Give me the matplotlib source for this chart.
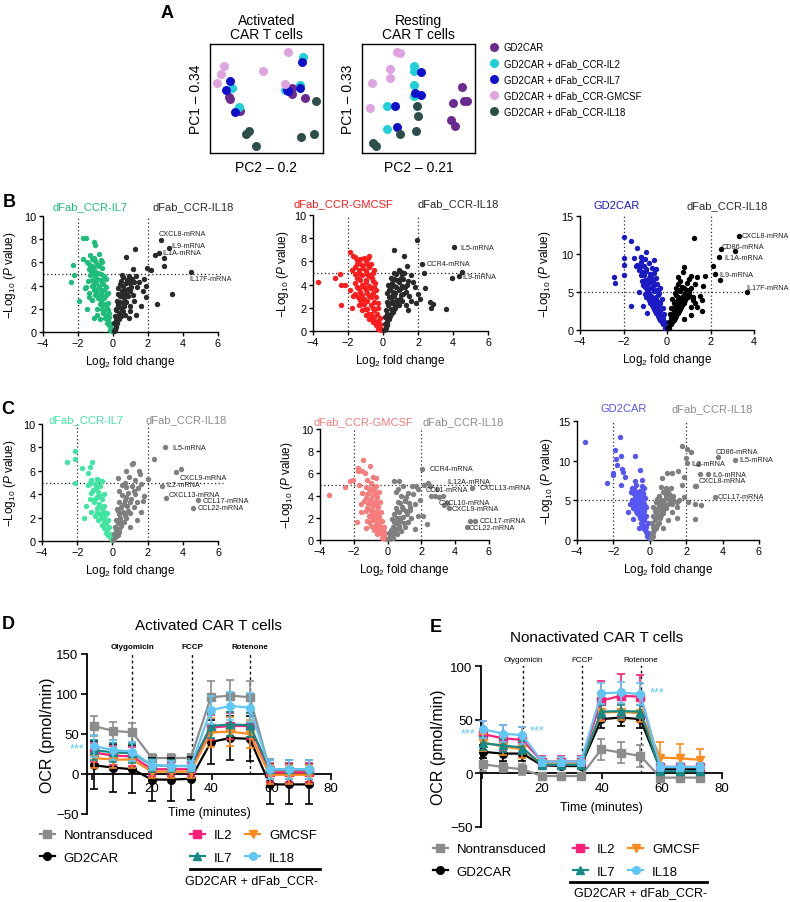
import numpy as np
import matplotlib
matplotlib.use('Agg')
import matplotlib.pyplot as plt
from matplotlib.lines import Line2D

plt.rcParams['font.family'] = ['Liberation Sans', 'DejaVu Sans']
plt.rcParams['mathtext.fontset'] = 'custom'
plt.rcParams['mathtext.rm'] = 'Liberation Sans'
plt.rcParams['mathtext.it'] = 'Liberation Sans:italic'
plt.rcParams['axes.linewidth'] = 1.0

# ---------------- panel A : PCA -----------------
pca_labels = ['GD2CAR', 'GD2CAR + dFab_CCR-IL2', 'GD2CAR + dFab_CCR-IL7',
              'GD2CAR + dFab_CCR-GMCSF', 'GD2CAR + dFab_CCR-IL18']
pca_colors = ['#6b2a90', '#1fd0d6', '#1010cc', '#dea3e0', '#2d4f4c']

act_gd2car = np.array([(0.147, 0.511), (0.162, 0.495), (0.25, 0.382), (0.741, 0.602), (0.741, 0.544), (0.862, 0.505)])
act_il2 = np.array([(0.176, 0.602), (0.241, 0.419), (0.676, 0.581), (0.838, 0.908), (0.812, 0.633)])
act_il7 = np.array([(0.156, 0.67), (0.124, 0.581), (0.2, 0.367), (0.691, 0.587), (0.829, 0.856), (0.818, 0.602), (0.706, 0.572)])
act_gmcsf = np.array([(0.097, 0.817), (0.074, 0.734), (0.038, 0.648), (0.471, 0.765), (0.706, 0.948), (0.671, 0.642)])
act_il18 = np.array([(0.309, 0.159), (0.338, 0.183), (0.397, 0.037), (0.824, 0.122), (0.95, 0.153), (0.965, 0.471)])

rest_gd2car = np.array([(0.912, 0.609), (0.824, 0.459), (0.926, 0.471), (0.956, 0.471), (0.803, 0.29), (0.838, 0.235)])
rest_il2 = np.array([(0.456, 0.817), (0.456, 0.765), (0.456, 0.633), (0.456, 0.526), (0.206, 0.428), (0.206, 0.205)])
rest_il7 = np.array([(0.52, 0.755), (0.465, 0.557), (0.52, 0.535), (0.279, 0.428), (0.294, 0.22)])
rest_gmcsf = np.array([(0.294, 0.954), (0.324, 0.939), (0.229, 0.786), (0.229, 0.7), (0.068, 0.654), (0.044, 0.404)])
rest_il18 = np.array([(0.485, 0.428), (0.491, 0.327), (0.479, 0.18), (0.329, 0.159), (0.074, 0.067), (0.103, 0.037)])

# ---------------- panels B / C : volcano plots (log2FC, -log10 p) -----------------
b1_il7 = np.array([(-0.05, 0.1), (-0.1, 0.3), (-0.15, 0.5), (-0.2, 0.8), (-0.1, 0.7), (-0.3, 1.0), (-0.25, 1.3), (-0.4, 1.5),
                   (-0.2, 1.6), (-0.5, 1.9), (-0.35, 2.1), (-0.6, 2.3), (-0.3, 2.5), (-0.7, 2.7), (-0.5, 2.9), (-0.8, 3.1),
                   (-0.4, 3.2), (-0.9, 3.4), (-0.6, 3.6), (-1.0, 3.7), (-0.4, 3.9), (-0.8, 4.0), (-1.1, 4.1), (-0.6, 4.3),
                   (-1.2, 4.5), (-0.9, 4.6), (-0.5, 4.8), (-1.3, 4.9), (-0.7, 5.0), (-1.0, 5.2), (-1.4, 5.4), (-0.6, 5.5),
                   (-1.2, 5.7), (-0.9, 5.9), (-1.5, 6.0), (-0.7, 6.2), (-1.1, 6.4), (-1.3, 6.6), (-0.8, 6.7), (-1.4, 3.0),
                   (-1.6, 3.8), (-1.5, 2.0), (-1.1, 1.2), (-0.9, 2.0), (-1.2, 2.8), (-1.73, 8.1), (-1.54, 8.1), (-1.09, 7.8),
                   (-1.03, 7.5), (-1.73, 6.3), (-2.3, 5.8), (-2.23, 4.9), (-2.42, 4.3), (-1.93, 2.7), (-1.54, 3.85),
                   (-0.15, 0.2), (-0.25, 0.6), (-0.35, 0.8), (-0.45, 1.2), (-0.55, 1.6), (-0.65, 2.0), (-0.45, 2.4),
                   (-0.75, 2.4), (-0.85, 2.9), (-0.6, 3.0), (-1.0, 3.2), (-0.7, 3.4), (-1.1, 3.6), (-0.8, 3.8), (-0.5, 3.6),
                   (-1.2, 4.0), (-0.95, 4.3), (-0.7, 4.5), (-1.05, 4.8), (-0.85, 5.1), (-1.25, 5.2), (-1.1, 5.5),
                   (-0.8, 5.7), (-1.35, 5.9), (-1.0, 6.1), (-1.2, 6.3), (-0.6, 6.0), (-1.45, 4.4), (-1.35, 3.4),
                   (-0.3, 3.4), (-0.55, 4.1), (-0.4, 4.6), (-0.9, 1.5), (-0.75, 1.1), (-0.3, 1.9)])
b1_il18 = np.array([(0.05, 0.1), (0.1, 0.3), (0.15, 0.6), (0.05, 0.8), (0.2, 1.0), (0.3, 1.2), (0.1, 1.4), (0.35, 1.6),
                    (0.2, 1.9), (0.45, 2.1), (0.3, 2.3), (0.55, 2.5), (0.25, 2.7), (0.65, 2.9), (0.4, 3.1), (0.75, 3.3),
                    (0.5, 3.5), (0.85, 3.7), (0.3, 3.8), (0.6, 4.0), (0.95, 4.2), (0.45, 4.4), (0.8, 4.5), (1.1, 4.6),
                    (0.6, 4.7), (1.3, 4.8), (1.5, 4.3), (1.7, 3.5), (1.9, 3.0), (1.6, 2.2), (1.2, 2.7), (1.0, 1.8),
                    (0.7, 1.5), (1.8, 4.6), (1.4, 3.9), (1.26, 7.16), (0.74, 6.5), (1.16, 5.4), (1.93, 5.5), (2.2, 5.34),
                    (2.5, 2.41), (3.35, 3.27), (2.93, 5.66), (2.93, 6.4), (2.4, 6.65), (2.63, 6.8), (2.74, 7.9),
                    (3.2, 7.2), (4.44, 5.14), (1.9, 4.0),
                    (0.1, 0.2), (0.2, 0.4), (0.25, 0.8), (0.35, 1.1), (0.45, 1.4), (0.55, 1.8), (0.65, 2.2), (0.4, 2.6),
                    (0.75, 2.6), (0.85, 3.1), (0.55, 3.2), (0.95, 3.5), (0.65, 3.6), (1.05, 3.9), (0.4, 4.1), (0.75, 4.2),
                    (1.2, 4.3), (0.5, 4.9), (0.9, 4.8), (1.0, 2.2), (1.15, 3.2), (0.3, 3.3), (0.15, 2.0), (0.9, 1.2),
                    (1.3, 1.5)])
b1_genes = [('CXCL8-mRNA', 2.6, 8.45), ('IL9-mRNA', 3.35, 7.45), ('IL1A-mRNA', 2.85, 6.85), ('IL17F-mRNA', 4.36, 4.65)]

b2_gmcsf = np.array([(-0.1, 0.1), (-0.2, 0.3), (-0.3, 0.2), (-0.15, 0.6), (-0.4, 0.5), (-0.3, 0.9), (-0.6, 0.8), (-0.2, 1.1),
                     (-0.5, 1.2), (-0.8, 1.0), (-0.35, 1.5), (-0.7, 1.5), (-1.0, 1.4), (-0.5, 1.8), (-0.9, 1.9), (-1.2, 1.8),
                     (-0.3, 2.0), (-0.7, 2.2), (-1.1, 2.3), (-1.4, 2.2), (-0.5, 2.5), (-0.9, 2.6), (-1.3, 2.7), (-0.4, 2.9),
                     (-0.8, 3.0), (-1.2, 3.1), (-1.6, 3.2), (-0.6, 3.3), (-1.0, 3.5), (-1.4, 3.6), (-0.5, 3.8), (-0.8, 3.9),
                     (-1.2, 4.0), (-1.6, 4.1), (-0.6, 4.3), (-1.0, 4.4), (-1.4, 4.5), (-0.8, 4.7), (-1.2, 4.8), (-1.6, 4.9),
                     (-0.6, 5.0), (-1.0, 5.2), (-1.4, 5.3), (-0.8, 5.5), (-1.2, 5.7), (-1.5, 5.8), (-1.0, 6.0), (-1.3, 6.2),
                     (-0.7, 5.8), (-1.7, 3.0), (-1.8, 2.0), (-3.7, 4.25), (-2.74, 4.6), (-2.46, 4.9), (-2.42, 3.97),
                     (-2.2, 4.0), (-2.42, 2.27), (-1.89, 6.8), (-1.74, 6.5), (-1.79, 5.3), (-1.89, 3.5), (-0.8, 6.5),
                     (-0.83, 6.3), (-1.5, 6.1),
                     (-0.25, 0.4), (-0.45, 0.8), (-0.65, 1.1), (-0.85, 1.5), (-1.05, 1.9), (-1.25, 2.3), (-0.6, 2.0),
                     (-0.3, 2.4), (-1.1, 2.8), (-0.7, 2.9), (-1.45, 2.9), (-1.3, 3.4), (-0.9, 3.3), (-0.4, 3.5),
                     (-0.7, 3.7), (-1.1, 3.8), (-1.5, 3.8), (-0.45, 4.1), (-1.0, 4.2), (-1.3, 4.4), (-0.65, 4.6),
                     (-1.5, 4.6), (-0.9, 4.9), (-1.35, 5.0), (-0.5, 5.3), (-1.15, 5.4), (-1.6, 5.5), (-0.9, 5.8),
                     (-1.4, 6.0), (-1.1, 6.3), (-1.6, 6.4)])
b2_il18 = np.array([(0.05, 0.1), (0.15, 0.3), (0.1, 0.6), (0.25, 0.5), (0.2, 0.9), (0.35, 1.0), (0.1, 1.2), (0.4, 1.3),
                    (0.25, 1.5), (0.55, 1.6), (0.15, 1.8), (0.45, 1.9), (0.7, 2.0), (0.3, 2.2), (0.6, 2.3), (0.9, 2.2),
                    (0.2, 2.5), (0.5, 2.6), (0.8, 2.7), (1.1, 2.6), (0.35, 2.9), (0.65, 3.0), (1.0, 3.1), (0.25, 3.3),
                    (0.55, 3.4), (0.9, 3.5), (1.3, 3.4), (0.4, 3.7), (0.75, 3.8), (1.1, 3.9), (0.5, 4.1), (0.9, 4.2),
                    (1.4, 4.3), (0.6, 4.5), (1.0, 4.6), (0.75, 4.9), (1.2, 5.0), (0.9, 5.3), (1.6, 4.8), (1.8, 3.8),
                    (1.6, 2.6), (1.4, 1.8), (0.63, 7.0), (1.2, 6.5), (1.93, 7.85), (2.25, 5.8), (2.34, 5.0), (1.98, 3.2),
                    (2.1, 2.8), (2.4, 3.7), (2.69, 2.47), (2.85, 2.3), (2.75, 2.0), (3.58, 1.9), (1.9, 2.4), (4.07, 7.27),
                    (4.53, 5.1), (4.34, 4.77), (3.96, 4.54), (1.35, 5.6), (1.07, 4.9), (1.35, 4.0),
                    (0.1, 0.2), (0.2, 0.7), (0.3, 1.1), (0.45, 1.5), (0.6, 1.9), (0.8, 2.4), (0.4, 2.4), (0.95, 2.8),
                    (0.5, 3.0), (1.15, 3.2), (0.7, 3.3), (0.35, 3.5), (1.0, 3.7), (0.6, 3.9), (1.25, 3.8), (0.8, 4.4),
                    (0.45, 4.6), (1.15, 4.5), (1.0, 5.1), (0.6, 5.0), (1.5, 3.0), (1.3, 2.2), (1.7, 4.2), (0.3, 4.0)])
b2_genes = [('IL5-mRNA', 4.4, 7.2), ('CCR4-mRNA', 2.5, 5.78), ('IL9-mRNA', 4.55, 4.7)]

b3_gd2car = np.array([(-0.05, 0.2), (-0.1, 0.5), (-0.2, 0.8), (-0.1, 1.1), (-0.3, 1.3), (-0.2, 1.6), (-0.4, 1.9), (-0.15, 2.1),
                      (-0.5, 2.2), (-0.3, 2.5), (-0.6, 2.7), (-0.2, 2.9), (-0.45, 3.1), (-0.7, 3.3), (-0.3, 3.5), (-0.55, 3.7),
                      (-0.85, 3.9), (-0.25, 4.1), (-0.5, 4.3), (-0.75, 4.5), (-1.0, 4.7), (-0.35, 4.9), (-0.6, 5.1), (-0.9, 5.3),
                      (-0.3, 5.5), (-0.7, 5.7), (-1.1, 5.9), (-0.45, 6.1), (-0.8, 6.3), (-1.0, 6.6), (-0.5, 6.8), (-0.75, 7.0),
                      (-1.2, 7.2), (-0.6, 7.5), (-0.95, 7.7), (-1.3, 7.9), (-0.7, 8.2), (-1.05, 8.4), (-0.85, 8.8), (-1.2, 9.0),
                      (-0.6, 9.2), (-1.4, 8.6), (-1.1, 3.2), (-1.3, 5.0), (-0.9, 2.3), (-1.98, 12.2), (-1.67, 11.75),
                      (-2.44, 6.93), (-2.39, 6.14), (-1.98, 9.47), (-1.98, 8.5), (-1.98, 7.27), (-1.37, 10.75), (-1.67, 3.2),
                      (-1.44, 8.4), (-1.2, 9.6), (-0.97, 10.2), (-1.53, 9.5),
                      (-0.1, 0.3), (-0.25, 1.0), (-0.35, 1.6), (-0.3, 2.0), (-0.55, 2.5), (-0.4, 2.8), (-0.65, 3.0),
                      (-0.35, 3.3), (-0.8, 3.6), (-0.45, 3.8), (-0.65, 4.1), (-0.95, 4.3), (-0.4, 4.6), (-0.85, 4.9),
                      (-0.5, 5.3), (-0.8, 5.5), (-1.0, 5.7), (-0.6, 5.9), (-0.9, 6.0), (-0.65, 6.5), (-1.15, 6.5),
                      (-0.85, 6.8), (-1.05, 7.2), (-0.8, 7.4), (-1.15, 7.6), (-0.95, 8.0), (-1.25, 8.3), (-0.5, 8.0),
                      (-1.0, 9.3), (-1.2, 9.6)])
b3_il18 = np.array([(0.05, 0.2), (0.1, 0.5), (0.2, 0.8), (0.1, 1.1), (0.3, 1.3), (0.2, 1.6), (0.4, 1.9), (0.15, 2.1),
                    (0.5, 2.2), (0.3, 2.5), (0.6, 2.7), (0.2, 2.9), (0.45, 3.1), (0.7, 3.3), (0.3, 3.5), (0.55, 3.7),
                    (0.85, 3.9), (0.25, 4.1), (0.5, 4.3), (0.75, 4.5), (1.0, 4.7), (0.35, 4.9), (0.6, 5.1), (0.9, 5.3),
                    (0.4, 5.5), (0.7, 5.7), (1.1, 5.5), (0.5, 6.0), (0.9, 6.2), (1.2, 4.0), (1.4, 3.0), (1.1, 2.0),
                    (0.8, 1.5), (1.5, 4.5), (1.6, 2.5), (1.24, 12.1), (0.78, 8.25), (1.09, 7.07), (1.4, 6.93), (1.67, 5.83),
                    (1.75, 7.07), (2.13, 8.38), (2.2, 7.37), (2.44, 6.62), (2.4, 9.65), (2.48, 10.66), (3.13, 10.35),
                    (3.31, 12.4), (3.66, 4.96), (0.52, 6.93), (0.75, 7.6),
                    (0.1, 0.3), (0.25, 1.0), (0.35, 1.6), (0.3, 2.0), (0.55, 2.5), (0.4, 2.8), (0.65, 3.0), (0.35, 3.3),
                    (0.8, 3.6), (0.45, 3.8), (0.65, 4.1), (0.95, 4.3), (0.4, 4.6), (0.85, 4.9), (0.5, 5.3), (0.8, 5.5),
                    (1.0, 5.0), (0.6, 6.5), (1.3, 6.0), (1.0, 6.7), (1.2, 4.4), (1.3, 3.5), (1.6, 4.0), (1.1, 3.0)])
b3_genes = [('CXCL8-mRNA', 3.43, 12.4), ('CD86-mRNA', 2.51, 11.0), ('IL1A-mRNA', 2.62, 9.6),
            ('IL9-mRNA', 2.4, 7.33), ('IL17F-mRNA', 3.63, 5.6)]

c1_il7 = np.array([(-0.05, 0.1), (-0.15, 0.3), (-0.1, 0.6), (-0.25, 0.5), (-0.3, 0.9), (-0.2, 1.2), (-0.45, 1.1), (-0.35, 1.5),
                   (-0.6, 1.4), (-0.25, 1.8), (-0.5, 1.9), (-0.8, 1.8), (-0.4, 2.2), (-0.7, 2.3), (-1.0, 2.1), (-0.55, 2.6),
                   (-0.85, 2.8), (-1.2, 2.5), (-0.45, 3.0), (-0.75, 3.2), (-1.05, 3.3), (-0.6, 3.6), (-0.9, 3.8), (-1.3, 3.6),
                   (-0.5, 4.0), (-0.8, 4.2), (-1.1, 4.4), (-0.7, 4.7), (-1.0, 4.9), (-1.4, 4.8), (-0.6, 5.1), (-0.9, 5.3),
                   (-1.2, 5.2), (-1.5, 3.0), (-1.6, 2.0), (-2.59, 6.72), (-2.11, 7.0), (-2.11, 7.72), (-2.11, 4.96),
                   (-1.73, 6.2), (-1.4, 5.8), (-1.16, 6.72), (-1.28, 6.3),
                   (-0.2, 0.4), (-0.35, 0.7), (-0.5, 1.5), (-0.65, 2.0), (-0.3, 2.4), (-0.9, 2.5), (-0.7, 2.9),
                   (-1.0, 3.6), (-0.75, 3.9), (-1.2, 4.1), (-0.95, 4.5), (-1.3, 5.0), (-0.8, 5.2)])
c1_il18 = np.array([(0.05, 0.1), (0.15, 0.3), (0.1, 0.6), (0.3, 0.5), (0.2, 0.9), (0.4, 1.0), (0.15, 1.2), (0.5, 1.3),
                    (0.3, 1.5), (0.65, 1.6), (0.2, 1.8), (0.45, 2.0), (0.8, 2.0), (0.35, 2.3), (0.6, 2.5), (1.0, 2.4),
                    (0.25, 2.7), (0.5, 2.9), (0.85, 3.0), (1.2, 2.9), (0.4, 3.3), (0.7, 3.5), (1.05, 3.6), (1.4, 3.3),
                    (0.55, 3.9), (0.9, 4.1), (1.3, 4.0), (0.4, 4.3), (0.75, 4.6), (1.1, 4.7), (1.6, 4.9), (1.8, 3.87),
                    (1.74, 3.4), (0.97, 5.44), (0.69, 5.0), (0.34, 5.38), (1.6, 2.5), (1.4, 1.8), (1.0, 1.2), (0.78, 6.0),
                    (1.16, 6.64), (1.54, 5.73), (2.02, 5.3), (1.11, 6.58), (1.49, 6.0), (2.36, 7.0), (2.97, 8.0),
                    (3.6, 5.87), (3.89, 6.15), (2.83, 4.73), (3.06, 3.67), (4.89, 3.5), (4.6, 2.85),
                    (0.2, 0.4), (0.35, 0.8), (0.5, 1.6), (0.7, 2.2), (0.3, 2.6), (0.9, 2.6), (0.65, 3.2), (1.0, 3.3),
                    (0.8, 3.8), (1.2, 4.3), (1.45, 4.5), (0.55, 4.8), (1.3, 5.2)])
c1_genes = [('IL5-mRNA', 3.4, 8.0), ('CXCL9-mRNA', 3.83, 5.44), ('IL2-mRNA', 3.06, 4.79),
            ('CXCL13-mRNA', 3.2, 4.0), ('CCL17-mRNA', 5.11, 3.5), ('CCL22-mRNA', 4.83, 2.85)]

c2_gmcsf = np.array([(-0.1, 0.1), (-0.2, 0.3), (-0.35, 0.2), (-0.15, 0.6), (-0.4, 0.6), (-0.6, 0.5), (-0.3, 0.9), (-0.55, 1.0),
                     (-0.8, 0.9), (-0.2, 1.2), (-0.45, 1.3), (-0.7, 1.4), (-1.0, 1.3), (-0.35, 1.7), (-0.6, 1.8), (-0.9, 1.8),
                     (-1.2, 1.7), (-0.5, 2.1), (-0.8, 2.2), (-1.1, 2.2), (-0.4, 2.5), (-0.7, 2.6), (-1.0, 2.7), (-1.3, 2.6),
                     (-0.55, 3.0), (-0.85, 3.1), (-1.15, 3.2), (-0.45, 3.4), (-0.75, 3.5), (-1.05, 3.6), (-1.4, 3.5),
                     (-0.6, 3.9), (-0.9, 4.0), (-1.2, 4.1), (-0.5, 4.3), (-0.8, 4.5), (-1.1, 4.6), (-1.5, 4.2), (-0.7, 4.9),
                     (-1.0, 5.1), (-1.6, 2.5), (-1.8, 1.6), (-1.3, 1.1), (-3.44, 4.05), (-2.53, 4.76), (-2.25, 5.36),
                     (-2.05, 5.45), (-1.44, 7.17), (-1.74, 6.5), (-1.74, 6.2), (-1.04, 6.63), (-1.5, 6.2), (-1.7, 5.0),
                     (-0.7, 5.6),
                     (-0.25, 0.4), (-0.5, 0.8), (-0.75, 1.2), (-1.1, 1.6), (-0.55, 1.6), (-0.95, 2.4), (-0.6, 2.4),
                     (-1.2, 2.9), (-0.7, 3.2), (-1.0, 3.3), (-1.3, 3.8), (-0.75, 4.1), (-1.05, 4.4), (-1.3, 4.8),
                     (-0.9, 4.7), (-1.2, 5.4), (-0.85, 5.7), (-1.35, 6.0), (-1.55, 3.2)])
c2_il18 = np.array([(0.05, 0.1), (0.15, 0.3), (0.3, 0.2), (0.1, 0.6), (0.35, 0.6), (0.55, 0.5), (0.2, 0.9), (0.5, 1.0),
                    (0.8, 0.8), (0.3, 1.2), (0.65, 1.3), (1.0, 1.2), (0.4, 1.6), (0.75, 1.7), (1.2, 1.6), (0.25, 1.9),
                    (0.55, 2.0), (0.9, 2.1), (1.4, 2.0), (0.4, 2.3), (0.7, 2.5), (1.1, 2.6), (0.5, 2.9), (0.85, 3.0),
                    (1.3, 3.0), (0.6, 3.4), (1.0, 3.5), (0.79, 3.96), (1.0, 3.6), (0.68, 5.3), (0.92, 4.85), (1.44, 4.85),
                    (1.68, 4.85), (2.17, 5.0), (2.37, 5.1), (0.39, 5.3), (1.82, 4.6), (0.5, 4.3), (1.2, 4.2), (1.6, 3.2),
                    (1.8, 2.2), (2.11, 2.17), (2.32, 1.43), (1.6, 1.0), (2.02, 6.4), (2.53, 4.85), (2.92, 4.55),
                    (2.59, 4.0), (3.07, 3.9), (5.0, 4.7), (3.36, 3.12), (3.66, 2.92), (3.51, 3.36), (5.15, 1.72),
                    (4.9, 1.72), (4.7, 1.13), (2.83, 3.96), (3.26, 3.96),
                    (0.2, 0.4), (0.45, 0.8), (0.7, 1.1), (0.95, 1.5), (0.5, 1.5), (0.75, 2.0), (1.15, 2.3), (0.55, 2.6),
                    (0.9, 2.8), (1.25, 3.3), (0.75, 3.3), (1.1, 3.9), (0.6, 4.6), (1.5, 4.1), (1.9, 3.6), (1.35, 2.7)])
c2_genes = [('CCR4-mRNA', 2.51, 6.4), ('IL12A-mRNA', 3.52, 5.3), ('CCL1-mRNA', 2.27, 4.55),
            ('CXCL13-mRNA', 5.45, 4.7), ('CXCL10-mRNA', 3.0, 3.42), ('CXCL9-mRNA', 3.81, 2.88),
            ('CCL17-mRNA', 5.45, 1.72), ('CCL22-mRNA', 4.79, 1.1)]

c3_gd2car = np.array([(-0.05, 0.2), (-0.15, 0.5), (-0.1, 0.9), (-0.25, 1.2), (-0.2, 1.6), (-0.4, 1.9), (-0.1, 2.2), (-0.3, 2.5),
                      (-0.55, 2.8), (-0.2, 3.0), (-0.45, 3.2), (-0.7, 3.4), (-0.3, 3.6), (-0.6, 3.8), (-0.9, 4.0), (-0.2, 4.2),
                      (-0.5, 4.4), (-0.8, 4.6), (-0.35, 4.8), (-0.65, 5.0), (-1.0, 5.1), (-0.25, 5.3), (-0.5, 5.5), (-0.8, 5.6),
                      (-0.4, 5.9), (-0.7, 6.1), (-1.1, 4.5), (-1.2, 3.5), (-0.9, 2.6), (-0.6, 1.5), (-1.0, 6.5), (-0.3, 6.5),
                      (-3.56, 12.4), (-1.64, 12.95), (-1.9, 11.4), (-1.58, 10.6), (-0.83, 10.6), (-0.55, 8.87), (-2.33, 7.2),
                      (-2.0, 8.4), (-2.0, 8.2), (-1.86, 10.2), (-1.8, 9.5), (-1.53, 8.95), (-1.47, 8.6), (-1.36, 8.0),
                      (-1.58, 6.9), (-0.83, 7.5), (-1.02, 6.0), (-0.42, 7.6),
                      (-0.1, 0.4), (-0.2, 1.0), (-0.35, 1.5), (-0.5, 2.2), (-0.3, 2.8), (-0.6, 3.1), (-0.4, 3.4),
                      (-0.75, 3.7), (-0.45, 4.0), (-0.7, 4.3), (-0.3, 4.5), (-0.6, 4.7), (-0.9, 4.8), (-0.45, 5.1),
                      (-0.75, 5.3), (-0.35, 5.7), (-0.6, 5.7), (-0.9, 5.9), (-0.55, 6.2), (-0.85, 6.4), (-0.45, 6.8),
                      (-0.75, 6.9)])
c3_il18 = np.array([(0.05, 0.2), (0.15, 0.5), (0.1, 0.9), (0.25, 1.2), (0.2, 1.6), (0.4, 1.9), (0.1, 2.2), (0.3, 2.5),
                    (0.55, 2.8), (0.2, 3.0), (0.45, 3.2), (0.7, 3.4), (0.3, 3.6), (0.6, 3.8), (0.9, 4.0), (0.2, 4.2),
                    (0.5, 4.4), (0.8, 4.6), (0.35, 4.8), (1.1, 4.8), (0.6, 5.0), (0.9, 5.3), (1.3, 5.0), (0.5, 5.5),
                    (0.7, 6.0), (1.2, 3.5), (1.5, 4.2), (1.0, 2.5), (0.7, 1.5), (1.5, 2.8), (1.77, 11.8), (2.05, 11.5),
                    (2.24, 11.06), (2.0, 10.34), (2.05, 9.7), (3.75, 10.5), (4.69, 10.1), (2.75, 8.3), (3.22, 8.3),
                    (3.56, 5.46), (2.47, 6.85), (2.55, 6.85), (1.24, 8.4), (1.53, 8.74), (1.86, 8.0), (0.68, 7.8),
                    (0.96, 8.4), (0.87, 6.55), (1.15, 6.55), (0.6, 6.7), (1.06, 5.8), (1.77, 6.97), (1.86, 5.46),
                    (2.5, 4.5), (2.8, 4.4), (2.51, 2.65), (1.47, 4.75), (2.09, 4.75), (2.66, 9.6),
                    (0.1, 0.4), (0.2, 1.0), (0.35, 1.5), (0.5, 2.2), (0.3, 2.8), (0.6, 3.1), (0.4, 3.4), (0.75, 3.7),
                    (0.45, 4.0), (0.7, 4.3), (1.0, 4.5), (0.6, 4.7), (1.2, 4.6), (0.8, 5.1), (1.1, 5.4), (0.4, 5.2),
                    (0.9, 5.7), (1.3, 5.6), (1.6, 5.0), (1.0, 6.0)])
c3_genes = [('CD86-mRNA', 3.6, 11.2), ('IL5-mRNA', 4.9, 10.1), ('IL2-mRNA', 2.28, 9.7),
            ('IL6-mRNA', 3.46, 8.3), ('CXCL8-mRNA', 2.71, 7.5), ('CCL17-mRNA', 3.75, 5.5)]

# ---------------- panels D / E : Seahorse OCR -----------------
times = [0.5, 7, 13.5, 20, 26.5, 33, 39.8, 46.3, 52.8, 59.5, 66, 72.8]
ocr_names = ['Nontransduced', 'GD2CAR', 'IL2', 'GMCSF', 'IL7', 'IL18']
ocr_colors = ['#8c8c8c', '#000000', '#ff1f78', '#ff8a1c', '#188a86', '#62c6f4']
ocr_markers = ['s', 'o', 's', 'v', '^', 'o']

d_nt = [60, 54, 52, 20, 20, 20, 96, 98, 96, 5, 4, 4]
d_gd2car = [11, 8, 6, -7, -7, -6, 40, 45, 44, -13, -13, -13]
d_il2 = [27, 23, 22, 6, 6, 6, 58, 60, 60, 2, 2, 2]
d_gmcsf = [20, 18, 18, 3, 3, 3, 52, 53, 50, -1, -1, -1]
d_il7 = [30, 27, 26, 11, 10, 10, 60, 62, 61, 6, 6, 6]
d_il18 = [35, 30, 28, 11, 10, 10, 80, 85, 83, 6, 6, 6]
d_nt_err = [12, 11, 12, 5, 5, 5, 20, 20, 20, 14, 14, 14]
d_gd2car_err = [30, 30, 30, 27, 27, 27, 28, 28, 28, 25, 25, 25]
d_il2_err = [12, 12, 12, 8, 8, 8, 16, 16, 16, 12, 12, 12]
d_gmcsf_err = [12, 10, 10, 8, 8, 8, 18, 18, 18, 12, 12, 12]
d_il7_err = [12, 12, 12, 8, 8, 8, 15, 15, 15, 12, 12, 12]
d_il18_err = [14, 12, 12, 6, 6, 6, 18, 18, 18, 12, 12, 12]

e_nt = [8.4, 5.9, 3.7, -2.5, -2.5, -2.5, 22.4, 19.3, 16.2, -4, -4, -4]
e_gd2car = [20, 18.4, 18.4, 7.5, 6.8, 6.8, 50.5, 52, 50.5, 3.7, 3.7, 3.7]
e_il2 = [36.4, 32.7, 31.1, 11, 11, 11, 67.6, 72.3, 71.4, 6, 6, 6]
e_gmcsf = [28.7, 25, 22.4, 8.4, 8.4, 8.4, 56.7, 57.3, 56, 14.6, 14, 12.5]
e_il7 = [28, 26, 24, 8, 8, 8, 57.5, 58, 57.5, 2, 2, 2]
e_il18 = [41, 37, 35.5, 11, 11, 11, 74.5, 75.4, 73.8, 6, 6, 6]
e_nt_err = [6, 5, 5, 2, 2, 2, 10, 10, 10, 3, 3, 3]
e_gd2car_err = [6, 7, 7, 3, 3, 3, 8, 8, 8, 3, 3, 3]
e_il2_err = [12, 12, 12, 5, 5, 5, 18, 20, 20, 4, 4, 4]
e_gmcsf_err = [8, 8, 8, 4, 4, 4, 8, 8, 8, 15, 13, 10]
e_il7_err = [6, 6, 6, 3, 3, 3, 6, 6, 6, 3, 3, 3]
e_il18_err = [8, 8, 8, 4, 4, 4, 10, 10, 10, 4, 4, 4]

injections = ['Olygomicin', 'FCCP', 'Rotenone']
d_inject_t = [13.4, 33.5, 53]
e_inject_t = [13.7, 33.3, 53]

W, H = 790, 903
fig = plt.figure(figsize=(W / 100, H / 100), dpi=100)


def box(x0, y0, x1, y1):
    return [x0 / W, 1 - y1 / H, (x1 - x0) / W, (y1 - y0) / H]


def ftext(x, y, s, **kw):
    kw.setdefault('ha', 'center')
    kw.setdefault('va', 'center')
    return fig.text(x / W, 1 - y / H, s, **kw)


# panel letters
for letter, lx, ly in [('A', 167, 13), ('B', 9, 203), ('C', 8, 410), ('D', 8, 625), ('E', 436, 627)]:
    ftext(lx, ly, letter, fontsize=13, fontweight='bold')

# ---- A ----
pca_sets = [(box(210, 45, 323, 154), [act_gd2car, act_il2, act_il7, act_gmcsf, act_il18], 'Activated\nCAR T cells',
             'PC2 – 0.2', 'PC1 – 0.34'),
            (box(362, 45, 475, 154), [rest_gd2car, rest_il2, rest_il7, rest_gmcsf, rest_il18], 'Resting\nCAR T cells',
             'PC2 – 0.21', 'PC1 – 0.33')]
pca_handles = []
for rect, sets, title, xl, yl in pca_sets:
    ax = fig.add_axes(rect)
    handles = []
    for pts, col, lab in zip(sets, pca_colors, pca_labels):
        h = ax.scatter(pts[:, 0], pts[:, 1], s=42, color=col, linewidths=0, label=lab)
        handles.append(h)
    pca_handles = handles
    ax.set_xlim(-0.03, 1.03)
    ax.set_ylim(-0.03, 1.03)
    ax.set_xticks([])
    ax.set_yticks([])
    ax.set_title(title, fontsize=10, pad=4, linespacing=1.05)
    ax.set_xlabel(xl, fontsize=10, labelpad=5)
    ax.set_ylabel(yl, fontsize=10, labelpad=5)
fig.legend(handles=pca_handles, labels=pca_labels, loc='upper left', bbox_to_anchor=(484 / W, 1 - 43 / H),
           frameon=False, fontsize=6.9, handletextpad=0.05, labelspacing=0.62, borderpad=0, borderaxespad=0,
           scatterpoints=1)

# ---- B / C volcano ----
dot = dict(color='#222222', lw=0.9, ls=(0, (1, 2)))


def volcano(rect, left, right, lcol, rcol, xlim, ylim, yticks, genes, hl_end, ylab_x, xlab_y):
    ax = fig.add_axes(rect)
    ax.plot([-2, -2], [0, ylim[1]], **dot)
    ax.plot([2, 2], [0, ylim[1]], **dot)
    ax.plot([xlim[0], hl_end], [5, 5], clip_on=False, **dot)
    ax.scatter(left[:, 0], left[:, 1], s=15, color=lcol, linewidths=0, clip_on=False, zorder=3)
    ax.scatter(right[:, 0], right[:, 1], s=15, color=rcol, linewidths=0, clip_on=False, zorder=3)
    for g, gx, gy in genes:
        ax.text(gx, gy, g, fontsize=5.2, color='#222222', va='center', clip_on=False)
    ax.set_xlim(xlim)
    ax.set_ylim(ylim)
    ax.set_xticks(np.arange(xlim[0], xlim[1] + 1, 2))
    ax.set_yticks(yticks)
    ax.spines[['top', 'right']].set_visible(False)
    ax.tick_params(labelsize=7.8, length=3, width=1, pad=1.5)
    ax.set_xlabel('Log$_2$ fold change', fontsize=8.5)
    ax.set_ylabel('−Log$_{10}$ ($\\mathit{P}$ value)', fontsize=8.5)
    ax.yaxis.set_label_coords(ylab_x, 0.5)
    ax.xaxis.set_label_coords(0.5, xlab_y)
    return ax


volcano(box(43, 217, 218, 333), b1_il7, b1_il18, '#1fbd7b', '#2a2a2a', (-4, 6), (0, 10), range(0, 11, 2),
        b1_genes, 6.3, -0.145, -0.18)
volcano(box(313, 216, 488, 332), b2_gmcsf, b2_il18, '#ff1c1c', '#2a2a2a', (-4, 6), (0, 10), range(0, 11, 2),
        b2_genes, 6.0, -0.125, -0.18)
volcano(box(580, 217, 754, 331), b3_gd2car, b3_il18, '#1a1ac4', '#000000', (-4, 4), (0, 15), range(0, 16, 5),
        b3_genes, 3.6, -0.155, -0.18)
volcano(box(42, 425, 218, 542), c1_il7, c1_il18, '#3fe6a2', '#7f7f7f', (-4, 6), (0, 10), range(0, 11, 2),
        c1_genes, 6.3, -0.136, -0.18)
volcano(box(320, 430, 489, 541), c2_gmcsf, c2_il18, '#f77c7c', '#7f7f7f', (-4, 6), (0, 10), range(0, 11, 2),
        c2_genes, 6.2, -0.148, -0.19)
volcano(box(577, 422, 759, 541), c3_gd2car, c3_il18, '#5656f2', '#7f7f7f', (-4, 6), (0, 15), range(0, 16, 5),
        c3_genes, 6.3, -0.12, -0.18)

vol_titles = [('dFab_CCR-IL7', 90, 207, '#1fbd7b'), ('dFab_CCR-IL18', 193, 207, '#2a2a2a'),
              ('dFab_CCR-GMCSF', 343, 204, '#ff1c1c'), ('dFab_CCR-IL18', 458, 204, '#2a2a2a'),
              ('GD2CAR', 617, 206, '#1a1ac4'), ('dFab_CCR-IL18', 727, 206, '#2a2a2a'),
              ('dFab_CCR-IL7', 86, 420, '#3fe6a2'), ('dFab_CCR-IL18', 186, 420, '#8c8c8c'),
              ('dFab_CCR-GMCSF', 363, 422, '#f77c7c'), ('dFab_CCR-IL18', 463, 422, '#8c8c8c'),
              ('GD2CAR', 624, 409, '#5656f2'), ('dFab_CCR-IL18', 712, 409, '#8c8c8c')]
for s, tx, ty, col in vol_titles:
    ftext(tx, ty, s, fontsize=8, color=col)

# ---- D / E OCR ----
d_means = [d_nt, d_gd2car, d_il2, d_gmcsf, d_il7, d_il18]
d_errs = [d_nt_err, d_gd2car_err, d_il2_err, d_gmcsf_err, d_il7_err, d_il18_err]
e_means = [e_nt, e_gd2car, e_il2, e_gmcsf, e_il7, e_il18]
e_errs = [e_nt_err, e_gd2car_err, e_il2_err, e_gmcsf_err, e_il7_err, e_il18_err]
draw_order = [0, 3, 4, 5, 2, 1]


def ocr_panel(rect, means, errs, inject_t, xlim, ylim, yticks, title, title_xy, lab_y, lab_bold, xlab_y, ylab_x):
    ax = fig.add_axes(rect)
    for t in inject_t:
        ax.plot([t, t], [0, lab_y - 6], color='#111111', lw=1.0, ls=(0, (2, 2)), zorder=1)
    handles = {}
    for i in draw_order:
        c = ax.errorbar(times, means[i], yerr=errs[i], color=ocr_colors[i], marker=ocr_markers[i], ms=5.5,
                        lw=1.6, elinewidth=1.2, capsize=3, capthick=1.2, clip_on=False, zorder=3 + i)
        handles[i] = c.lines[0]
    for name, t in zip(injections, inject_t):
        ax.text(t, lab_y, name, fontsize=5.8, ha='center', va='center',
                fontweight='bold' if lab_bold else 'normal')
    ax.set_xlim(xlim)
    ax.set_ylim(ylim)
    ax.spines[['top', 'right']].set_visible(False)
    ax.spines['bottom'].set_position(('data', 0))
    ax.spines['bottom'].set_bounds(xlim[0], 80)
    ax.spines[['left', 'bottom']].set_linewidth(1.3)
    ax.set_xticks([0, 20, 40, 60, 80])
    ax.set_xticklabels(['', '20', '40', '60', '80'])
    ax.set_yticks(yticks)
    ax.tick_params(labelsize=9.5, length=4, width=1.2, pad=2)
    ax.set_xlabel('Time (minutes)', fontsize=9)
    ax.set_ylabel('OCR (pmol/min)', fontsize=11.5)
    ax.xaxis.set_label_coords(0.5, xlab_y)
    ax.yaxis.set_label_coords(ylab_x, 0.5)
    ftext(title_xy[0], title_xy[1], title, fontsize=11)
    return ax, handles


axd, hd = ocr_panel(box(87, 655, 331, 815), d_means, d_errs, d_inject_t, (-1.7, 80), (-50, 150),
                    [-50, 0, 50, 100, 150], 'Activated CAR T cells', (208, 626), 159, True, 0.05, -0.13)
axd.text(-5, 32, '***', color='#62c6f4', fontsize=9, ha='center', va='center', clip_on=False)

axe, he = ocr_panel(box(481, 667, 722, 828), e_means, e_errs, e_inject_t, (-0.3, 80), (-50, 100),
                    [-50, 0, 50, 100], 'Nonactivated CAR T cells', (597, 638), 106.5, False, 0.16, -0.145)
for sx, sy in [(-4.7, 37), (18.3, 40), (58.3, 75)]:
    axe.text(sx, sy, '***', color='#62c6f4', fontsize=9, ha='center', va='center', clip_on=False)

# legends for D and E
for handles, x1, y1, x2, bar, txt in [(hd, 40, 830, 190, (190, 320, 870), (252, 881)),
                                       (he, 433, 844, 573, (570, 707, 883), (640, 893))]:
    fig.legend([handles[0], handles[1]], ['Nontransduced', 'GD2CAR'], loc='upper left',
               bbox_to_anchor=(x1 / W, 1 - y1 / H), frameon=False, fontsize=9.5, handlelength=1.1,
               handletextpad=0.7, labelspacing=0.78, borderpad=0, borderaxespad=0)
    fig.legend([handles[2], handles[4], handles[3], handles[5]], ['IL2', 'IL7', 'GMCSF', 'IL18'], ncol=2,
               loc='upper left', bbox_to_anchor=(x2 / W, 1 - y1 / H), frameon=False, fontsize=9.5,
               handlelength=1.1, handletextpad=0.7, labelspacing=0.78, columnspacing=1.0, borderpad=0,
               borderaxespad=0)
    fig.add_artist(Line2D([bar[0] / W, bar[1] / W], [1 - bar[2] / H, 1 - bar[2] / H], color='black', lw=2,
                          transform=fig.transFigure))
    ftext(txt[0], txt[1], 'GD2CAR + dFab_CCR-', fontsize=9)

fig.savefig('out.png', dpi=100)
